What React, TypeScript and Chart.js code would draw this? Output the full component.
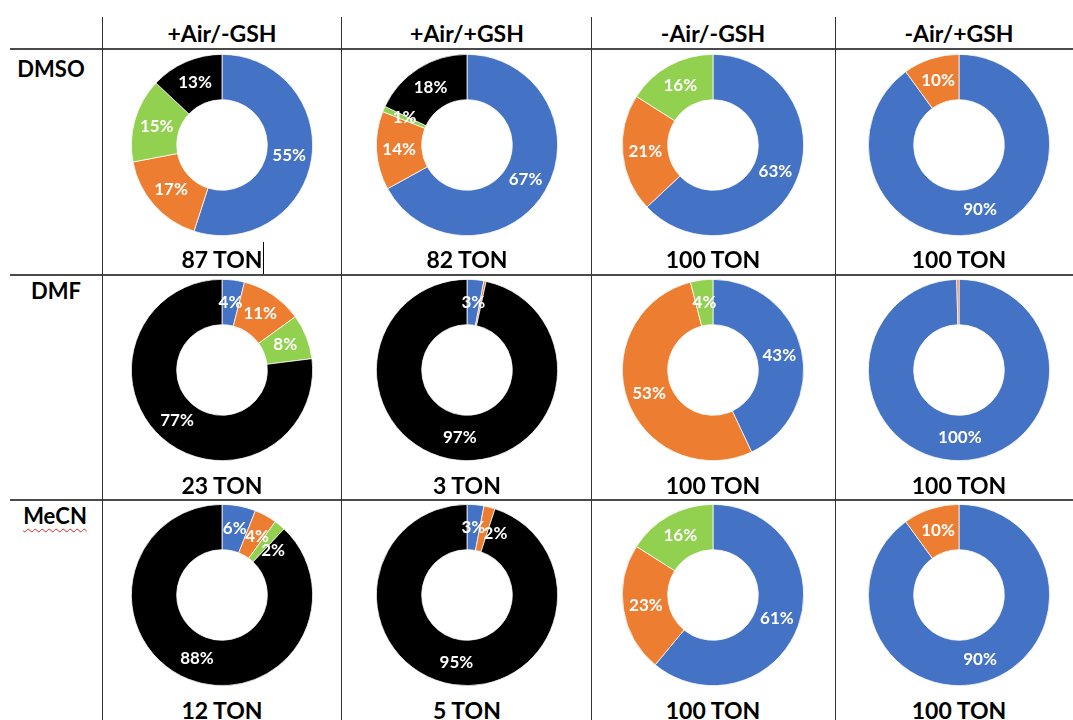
import React, { useEffect, useRef } from 'react';
import { Chart, registerables } from 'chart.js';

Chart.register(...registerables);

// ---- data ----
const conditions = ['+Air/-GSH', '+Air/+GSH', '-Air/-GSH', '-Air/+GSH'];
const solvents = ['DMSO', 'DMF', 'MeCN'];
const segmentNames = ['Blue fraction', 'Orange fraction', 'Green fraction', 'Black fraction'];
const segmentColors = ['#4472C4', '#ED7D31', '#92D050', '#000000'];

// each entry: [blue, orange, green, black] (%), one per condition
const dmsoValues = [
  [55, 17, 15, 13],
  [67, 14, 1, 18],
  [63, 21, 16, 0],
  [90, 10, 0, 0],
];
const dmfValues = [
  [4, 11, 8, 77],
  [3, 0.4, 0, 97],
  [43, 53, 4, 0],
  [100, 0.4, 0, 0],
];
const mecnValues = [
  [6, 4, 2, 88],
  [3, 2, 0, 95],
  [61, 23, 16, 0],
  [90, 10, 0, 0],
];
const dmsoTon = [87, 82, 100, 100];
const dmfTon = [23, 3, 100, 100];
const mecnTon = [12, 5, 100, 100];

const allValues = [dmsoValues, dmfValues, mecnValues];
const allTon = [dmsoTon, dmfTon, mecnTon];

// ---- layout ----
const FONT = 'Lato, "Open Sans", sans-serif';
const colCenters = [222, 467, 713, 959];
const rowCenters = [145, 370, 595];
const tonY = [259, 485, 710];
const vLines = [102, 341, 591, 835];
const hLines = [48, 274, 499];
const rowLabelX = [51, 56, 55];
const rowLabelY = [69, 291, 516];
const CANVAS = 196;

const labelPlugin = {
  id: 'sliceLabels',
  afterDatasetsDraw(chart: any) {
    const ctx = chart.ctx;
    const meta = chart.getDatasetMeta(0);
    const data = chart.data.datasets[0].data as number[];
    ctx.save();
    ctx.font = `bold 17px ${FONT}`;
    ctx.fillStyle = '#ffffff';
    ctx.textAlign = 'center';
    ctx.textBaseline = 'middle';
    const placed: { x: number; y: number; w: number }[] = [];
    const h = 13;
    meta.data.forEach((arc: any, i: number) => {
      const v = data[i];
      if (v < 1) return;
      const text = `${Math.round(v)}%`;
      const w = ctx.measureText(text).width;
      const p = arc.getProps(['x', 'y', 'startAngle', 'endAngle', 'innerRadius', 'outerRadius'], true);
      const r = (p.innerRadius + p.outerRadius) / 2;
      let ang = (p.startAngle + p.endAngle) / 2;
      let x = 0;
      let y = 0;
      let tries = 0;
      let overlap = false;
      do {
        x = p.x + r * Math.cos(ang);
        y = p.y + r * Math.sin(ang);
        overlap = placed.some((b) => Math.abs(b.x - x) < (b.w + w) / 2 - 2 && Math.abs(b.y - y) < h);
        if (overlap) ang += 0.02;
      } while (overlap && tries++ < 80);
      placed.push({ x, y, w });
      ctx.fillText(text, x, y);
    });
    ctx.restore();
  },
};

function Donut({ values, cx, cy }: { values: number[]; cx: number; cy: number }) {
  const ref = useRef<HTMLCanvasElement | null>(null);
  useEffect(() => {
    if (!ref.current) return;
    const chart = new Chart(ref.current, {
      type: 'doughnut',
      data: {
        labels: segmentNames,
        datasets: [
          {
            data: values,
            backgroundColor: segmentColors,
            borderColor: '#ffffff',
            borderWidth: 0.75,
          },
        ],
      },
      options: {
        responsive: false,
        animation: false,
        cutout: '50%',
        layout: { padding: 7 },
        plugins: { legend: { display: false }, tooltip: { enabled: false } },
      },
      plugins: [labelPlugin],
    });
    if ((document as any).fonts) {
      (document as any).fonts.load(`bold 17px Lato`).then(() => {
        try { chart.update('none'); } catch (e) {}
      });
    }
    return () => chart.destroy();
  }, [values]);
  return (
    <canvas
      ref={ref}
      width={CANVAS}
      height={CANVAS}
      style={{ position: 'absolute', left: cx - CANVAS / 2, top: cy - CANVAS / 2, width: CANVAS, height: CANVAS }}
    />
  );
}

const centered = (x: number, y: number, size: number, extra: any = {}) => ({
  position: 'absolute' as const,
  left: x,
  top: y,
  transform: 'translate(-50%, -50%)',
  fontFamily: FONT,
  fontWeight: 700,
  fontSize: size,
  color: '#000',
  whiteSpace: 'nowrap' as const,
  lineHeight: 1,
  ...extra,
});

export default function App() {
  return (
    <div style={{ position: 'absolute', left: 0, top: 0, width: 1073, height: 720, background: '#fff', overflow: 'hidden' }}>
      {hLines.map((y, i) => (
        <div key={'h' + i} style={{ position: 'absolute', left: 10, top: y, width: 1063, height: 2, background: '#4a4a4a' }} />
      ))}
      {vLines.map((x, i) => (
        <div key={'v' + i} style={{ position: 'absolute', left: x, top: 17, width: 1, height: 703, background: '#333' }} />
      ))}
      {conditions.map((c, i) => (
        <div key={'c' + i} style={centered(colCenters[i], 33, 23)}>{c}</div>
      ))}
      {solvents.map((s, i) => (
        <div
          key={'s' + i}
          style={centered(rowLabelX[i], rowLabelY[i], 22, s === 'MeCN'
            ? { textDecoration: 'underline wavy #e02020', textDecorationThickness: '1px', textUnderlineOffset: '4px' }
            : {})}
        >
          {s}
        </div>
      ))}
      {allValues.map((row, r) =>
        row.map((vals, c) => <Donut key={`d${r}-${c}`} values={vals} cx={colCenters[c]} cy={rowCenters[r]} />)
      )}
      {allTon.map((row, r) =>
        row.map((t, c) => (
          <div key={`t${r}-${c}`} style={centered(colCenters[c], tonY[r], 23)}>{`${t} TON`}</div>
        ))
      )}
      <div style={{ position: 'absolute', left: 263, top: 242, width: 1, height: 32, background: '#000' }} />
    </div>
  );
}
